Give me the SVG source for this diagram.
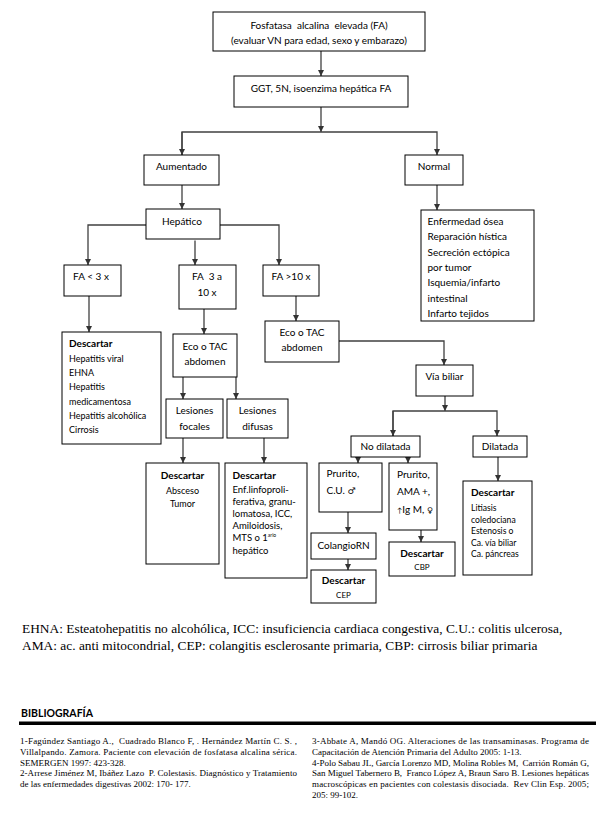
<svg xmlns="http://www.w3.org/2000/svg" width="616" height="834" viewBox="0 0 616 834">
<style>
.bx{fill:#fff;stroke:#000;stroke-width:1}
.cn{fill:none;stroke:#404040;stroke-width:1.3}
.t{font-family:Lato,"Liberation Sans",sans-serif;font-size:10px;fill:#000}
.m{text-anchor:middle}
.s{font-size:9px}
.s2{font-size:9.5px}
.s3{font-size:8.6px}
.xs{font-size:8px}
.bd{font-weight:bold;font-size:10px}
.fn{font-family:"Liberation Serif","Times New Roman",serif;font-size:13.4px;fill:#000}
.rf{font-family:"Liberation Serif","Times New Roman",serif;font-size:9px;fill:#000}
.bib{font-family:Lato,"Liberation Sans",sans-serif;font-size:10.5px;font-weight:bold;fill:#000}
</style>
<defs>
<marker id="ah" markerWidth="6" markerHeight="6" refX="6" refY="3" orient="auto" markerUnits="userSpaceOnUse">
<path d="M0,0 L6,3 L0,6 z" fill="#333"/>
</marker>
</defs>
<rect width="616" height="834" fill="#fff"/>

<g id="connectors" class="cn">
<path d="M321,51 V76" marker-end="url(#ah)"/>
<path d="M321,107 V132" marker-end="url(#ah)"/>
<path d="M182,155 V132 H437 V155" marker-end="url(#ah)"/>
<path d="M182,132 V155" marker-end="url(#ah)"/>
<path d="M182,185 V209" marker-end="url(#ah)"/>
<path d="M437,185 V210" marker-end="url(#ah)"/>
<path d="M146,225 H88 V265" marker-end="url(#ah)"/>
<path d="M195,240.5 V265" marker-end="url(#ah)"/>
<path d="M220,225 H279 V265" marker-end="url(#ah)"/>
<path d="M89,296 V332" marker-end="url(#ah)"/>
<path d="M204,309 V334" marker-end="url(#ah)"/>
<path d="M296,296 V321" marker-end="url(#ah)"/>
<path d="M183,377 V399" marker-end="url(#ah)"/>
<path d="M236,377 V399" marker-end="url(#ah)"/>
<path d="M183,438 V463" marker-end="url(#ah)"/>
<path d="M264,438 V463" marker-end="url(#ah)"/>
<path d="M339,341 H444 V365" marker-end="url(#ah)"/>
<path d="M445,396 V411" marker-end="url(#ah)"/>
<path d="M393,436 V411 H497 V436" marker-end="url(#ah)"/>
<path d="M393,411 V436" marker-end="url(#ah)"/>
<path d="M358,457 V463" marker-end="url(#ah)"/>
<path d="M408,457 V463" marker-end="url(#ah)"/>
<path d="M498,457 V481" marker-end="url(#ah)"/>
<path d="M348,512 V533" marker-end="url(#ah)"/>
<path d="M348,559 V570" marker-end="url(#ah)"/>
<path d="M421,530 V542" marker-end="url(#ah)"/>
</g>

<g id="n1"><rect class="bx" x="213" y="12" width="212" height="39"/>
<text class="t m" x="319" y="28.5" font-size="10.3" xml:space="preserve">Fosfatasa  alcalina  elevada (FA)</text>
<text class="t m" x="319" y="43.5" font-size="10.3">(evaluar VN para edad, sexo y embarazo)</text></g>

<g id="n2"><rect class="bx" x="234" y="76" width="174" height="31"/>
<text class="t m" x="321" y="91.5">GGT, 5N, isoenzima hepática FA</text></g>

<g id="n3"><rect class="bx" x="144" y="155" width="75" height="30"/>
<text class="t m" x="181.5" y="170">Aumentado</text></g>

<g id="n4"><rect class="bx" x="405" y="155" width="58" height="30"/>
<text class="t m" x="434" y="170">Normal</text></g>

<g id="n5"><rect class="bx" x="146" y="209" width="74" height="30"/>
<text class="t m" x="182" y="224.5">Hepático</text></g>

<g id="n6"><rect class="bx" x="421" y="210" width="113" height="111"/>
<text class="t" x="427.5" y="225">Enfermedad ósea</text>
<text class="t" x="427.5" y="240.3">Reparación hística</text>
<text class="t" x="427.5" y="255.6">Secreción ectópica</text>
<text class="t" x="427.5" y="270.9">por tumor</text>
<text class="t" x="427.5" y="286.2">Isquemia/infarto</text>
<text class="t" x="427.5" y="301.5">intestinal</text>
<text class="t" x="427.5" y="316.8">Infarto tejidos</text></g>

<g id="n7"><rect class="bx" x="64" y="265" width="57" height="31"/>
<text class="t m" x="91" y="280">FA &lt; 3 x</text></g>

<g id="n8"><rect class="bx" x="179" y="265" width="57" height="44"/>
<text class="t m" x="207" y="280" xml:space="preserve">FA  3 a</text>
<text class="t m" x="207" y="295.5">10 x</text></g>

<g id="n9"><rect class="bx" x="263" y="265" width="56" height="31"/>
<text class="t m" x="291" y="280">FA &gt;10 x</text></g>

<g id="n10"><rect class="bx" x="62" y="332" width="99" height="112"/>
<text class="t bd" x="69" y="346.5">Descartar</text>
<text class="t s" x="69" y="361.5">Hepatitis viral</text>
<text class="t s" x="69" y="375.5">EHNA</text>
<text class="t s" x="69" y="390">Hepatitis</text>
<text class="t s" x="69" y="404.5">medicamentosa</text>
<text class="t s" x="69" y="418.5">Hepatitis alcohólica</text>
<text class="t s" x="69" y="432.5">Cirrosis</text></g>

<g id="n11"><rect class="bx" x="173" y="334" width="64" height="43"/>
<text class="t m" x="205" y="349.5">Eco o TAC</text>
<text class="t m" x="205" y="365">abdomen</text></g>

<g id="n12"><rect class="bx" x="265" y="321" width="74" height="41"/>
<text class="t m" x="302" y="336">Eco o TAC</text>
<text class="t m" x="302" y="351">abdomen</text></g>

<g id="n13"><rect class="bx" x="416" y="365" width="57" height="31"/>
<text class="t m" x="444.5" y="380">Vía biliar</text></g>

<g id="n14"><rect class="bx" x="166" y="399" width="57" height="39"/>
<text class="t m" x="194.5" y="414">Lesiones</text>
<text class="t m" x="194.5" y="429.5">focales</text></g>

<g id="n15"><rect class="bx" x="227" y="399" width="61" height="39"/>
<text class="t m" x="257.5" y="414">Lesiones</text>
<text class="t m" x="257.5" y="429.5">difusas</text></g>

<g id="n16"><rect class="bx" x="351" y="436" width="69" height="21"/>
<text class="t m" x="385.5" y="450">No dilatada</text></g>

<g id="n17"><rect class="bx" x="473" y="436" width="54" height="21"/>
<text class="t m" x="500" y="450">Dilatada</text></g>

<g id="n18"><rect class="bx" x="146" y="463" width="73" height="101"/>
<text class="t bd m" x="182.5" y="478.5">Descartar</text>
<text class="t s m" x="182.5" y="493.5">Absceso</text>
<text class="t s m" x="182.5" y="506.5">Tumor</text></g>

<g id="n19"><rect class="bx" x="225" y="463" width="82" height="115"/>
<text class="t bd" x="232.5" y="478.5">Descartar</text>
<text class="t s2" x="232.5" y="492.5">Enf.linfoproli-</text>
<text class="t s2" x="232.5" y="504.7">ferativa, granu-</text>
<text class="t s2" x="232.5" y="517">lomatosa, ICC,</text>
<text class="t s2" x="232.5" y="529.2">Amiloidosis,</text>
<text class="t s2" x="232.5" y="541.4">MTS o 1<tspan font-size="5" dy="-4">ario</tspan></text>
<text class="t s2" x="232.5" y="553.6">hepático</text></g>

<g id="n20"><rect class="bx" x="319" y="463" width="63" height="49"/>
<text class="t" x="326.5" y="477">Prurito,</text>
<text class="t" x="326.5" y="493.5">C.U. <tspan font-family="DejaVu Sans" font-size="9">♂</tspan></text></g>

<g id="n21"><rect class="bx" x="389" y="463" width="48" height="67"/>
<text class="t" x="397" y="477.5">Prurito,</text>
<text class="t" x="397" y="495">AMA +,</text>
<text class="t" x="397" y="512.5"><tspan font-size="7">↑</tspan>Ig M, <tspan font-family="DejaVu Sans" font-size="8">♀</tspan></text></g>

<g id="n22"><rect class="bx" x="311" y="533" width="65" height="26"/>
<text class="t m" x="343.5" y="549">ColangioRN</text></g>

<g id="n23"><rect class="bx" x="311" y="570" width="65" height="33"/>
<text class="t bd m" x="343.5" y="584">Descartar</text>
<text class="t xs m" x="343.5" y="598">CEP</text></g>

<g id="n24"><rect class="bx" x="389" y="542" width="66" height="34"/>
<text class="t bd m" x="422" y="556.5">Descartar</text>
<text class="t xs m" x="422" y="570">CBP</text></g>

<g id="n25"><rect class="bx" x="463" y="481" width="69" height="94"/>
<text class="t bd" x="471" y="495.5">Descartar</text>
<text class="t s3" x="471" y="511">Litiasis</text>
<text class="t s3" x="471" y="522.5">coledociana</text>
<text class="t s3" x="471" y="534">Estenosis o</text>
<text class="t s3" x="471" y="545.5">Ca. vía biliar</text>
<text class="t s3" x="471" y="557">Ca. páncreas</text></g>

<g id="footnote">
<text class="fn" x="22" y="633">EHNA: Esteatohepatitis no alcohólica, ICC: insuficiencia cardiaca congestiva, C.U.: colitis ulcerosa,</text>
<text class="fn" x="22" y="650">AMA: ac. anti mitocondrial, CEP: colangitis esclerosante primaria, CBP: cirrosis biliar primaria</text>
</g>

<g id="bibliografia">
<text class="bib" x="21" y="717">BIBLIOGRAFÍA</text>
<rect x="19" y="721.5" width="577" height="3.5" fill="#000"/>
<text class="rf" x="20" y="744" textLength="277" lengthAdjust="spacing" xml:space="preserve">1-Fagúndez Santiago A.,  Cuadrado Blanco F, . Hernández Martín C. S. ,</text>
<text class="rf" x="20" y="754.8" textLength="277" lengthAdjust="spacing">Villalpando. Zamora. Paciente con elevación de fosfatasa alcalina sérica.</text>
<text class="rf" x="20" y="765.6">SEMERGEN 1997: 423-328.</text>
<text class="rf" x="20" y="776.4" textLength="277" lengthAdjust="spacing" xml:space="preserve">2-Arrese Jiménez M, Ibáñez Lazo  P. Colestasis. Diagnóstico y Tratamiento</text>
<text class="rf" x="20" y="787.2">de las enfermedades digestivas 2002: 170- 177.</text>
<text class="rf" x="312" y="744" textLength="277" lengthAdjust="spacing">3-Abbate A, Mandó OG. Alteraciones de las transaminasas. Programa de</text>
<text class="rf" x="312" y="754.8">Capacitación de Atención Primaria del Adulto 2005: 1-13.</text>
<text class="rf" x="312" y="765.6" textLength="277" lengthAdjust="spacing" xml:space="preserve">4-Polo Sabau JL, García Lorenzo MD, Molina Robles M,  Carrión Román G,</text>
<text class="rf" x="312" y="776.4" textLength="277" lengthAdjust="spacing" xml:space="preserve">San Miguel Tabernero B,  Franco López A, Braun Saro B. Lesiones hepáticas</text>
<text class="rf" x="312" y="787.2" textLength="277" lengthAdjust="spacing" xml:space="preserve">macroscópicas en pacientes con colestasis disociada.  Rev Clin Esp. 2005;</text>
<text class="rf" x="312" y="798">205: 99-102.</text>
</g>
</svg>
